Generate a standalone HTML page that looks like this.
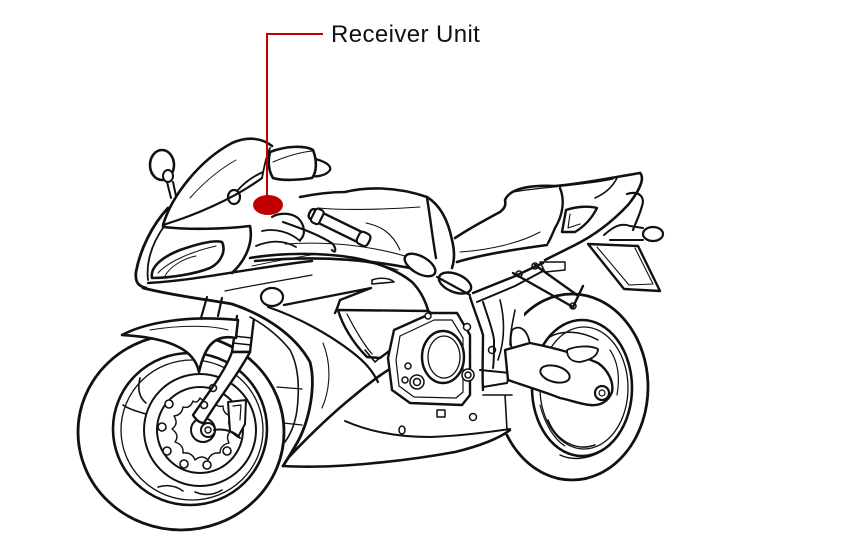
<!DOCTYPE html>
<html><head><meta charset="utf-8"><style>
html,body{margin:0;padding:0;background:#fff;}
body{width:858px;height:556px;overflow:hidden;position:relative;}
svg{position:absolute;left:0;top:0;}
.lbl{position:absolute;left:331px;top:21px;font-family:"Liberation Sans",sans-serif;font-size:24px;color:#111;letter-spacing:0.4px;white-space:nowrap;}
</style></head><body>
<svg width="858" height="556" viewBox="0 0 858 556" xmlns="http://www.w3.org/2000/svg">
<g fill="none" stroke="#111" stroke-linecap="round" stroke-linejoin="round">

<!-- REAR WHEEL -->
<ellipse cx="572" cy="387" rx="76" ry="93" stroke-width="2.8" fill="#fff"/>
<ellipse cx="582" cy="388" rx="50" ry="68" stroke-width="2.6"/>
<ellipse cx="584" cy="388" rx="44" ry="61" stroke-width="1.3"/>
<path d="M548,338 C560,330 580,330 598,340" stroke-width="1.5"/>
<path d="M548,420 C556,440 575,452 595,445" stroke-width="1.5"/>
<path d="M540,405 C545,425 555,440 565,446" stroke-width="1.2"/>
<path d="M610,350 C618,362 620,378 617,395" stroke-width="1.2"/>
<path d="M560,455 C575,462 595,458 610,445" stroke-width="1.5"/>
<!-- occluder rear -->
<path d="M466,280 L524,280 L524,330 L513,345 L511,434 L466,434 Z" fill="#fff" stroke="none"/>

<!-- FRONT WHEEL -->
<ellipse cx="181" cy="432" rx="103" ry="98" stroke-width="2.8" fill="#fff"/>
<ellipse cx="190" cy="429" rx="77" ry="76" stroke-width="2.6"/>
<ellipse cx="192" cy="430" rx="71" ry="70" stroke-width="1.3"/>
<ellipse cx="200" cy="430" rx="56" ry="56" stroke-width="2"/>
<path d="M123,405 C130,410 140,412 146,414" stroke-width="1.6"/>
<path d="M140,378 C137,390 140,398 146,403" stroke-width="1.6"/>
<path d="M158,487 C168,484 176,486 183,491" stroke-width="1.6"/>
<path d="M195,492 C205,496 214,495 222,490" stroke-width="1.6"/>
<circle cx="200" cy="430" r="43" stroke-width="2"/>
<path d="M200,398 Q206,404 212,399 Q216,408 223,406 Q223,414 231,416 Q226,423 232,430 Q225,435 229,443 Q220,445 220,453 Q211,452 208,460 Q202,454 195,460 Q192,452 183,453 Q184,445 175,442 Q180,435 172,429 Q179,424 174,416 Q182,415 183,407 Q190,409 193,401 Q197,404 200,398 Z" stroke-width="1.4"/>
<g stroke-width="1.6" fill="#fff">
<circle cx="169" cy="404" r="4"/><circle cx="162" cy="427" r="4"/><circle cx="167" cy="451" r="4"/>
<circle cx="184" cy="464" r="4"/><circle cx="207" cy="465" r="4"/><circle cx="227" cy="451" r="4"/>
</g>
<circle cx="203" cy="430" r="12" stroke-width="2" fill="#fff"/>
<circle cx="208" cy="430" r="7" stroke-width="2" fill="#fff"/>
<circle cx="208" cy="430" r="3" stroke-width="1.4"/>
<path d="M228,402 L246,400 L245,424 L238,437 L230,431 Z" stroke-width="2" fill="#fff"/>
<path d="M233,406 L241,405 L240,420" stroke-width="1.2"/>
<path d="M214,430 C225,428 235,432 240,438" stroke-width="2"/>

<!-- FORK -->
<path d="M207,297 L201,318 M222,298 L218,316" stroke-width="2.2"/>
<path d="M237,316 L232,352 L250,352 L254,318" stroke-width="2.4" fill="#fff"/>
<path d="M233,336 L252,338 M233,343 L251,345" stroke-width="1.6"/>
<path d="M232,352 C225,372 206,396 193,415 C196,420 200,423 204,423 C216,402 236,378 250,352 Z" stroke-width="2.4" fill="#fff"/>
<circle cx="213" cy="388" r="3.5" stroke-width="1.6"/>
<circle cx="204" cy="405" r="3.5" stroke-width="1.6"/>

<!-- FENDER -->
<path d="M122,335 C145,323 185,315 238,320 L236,338 C215,334 205,345 199,372 C195,352 175,338 122,335 Z" stroke-width="2.6" fill="#fff"/>
<path d="M150,330 C180,325 210,325 228,330" stroke-width="1"/>

<!-- occluder front lower fairing -->
<path d="M250,316 C275,330 300,355 310,385 C314,410 303,440 283,466 L340,470 L350,300 Z" fill="#fff" stroke="none"/>

<!-- WINDSCREEN -->
<path d="M163,225 C172,195 200,160 232,143 C248,136 262,138 272,146" stroke-width="2.6"/>
<path d="M166,224 C192,216 232,200 262,178" stroke-width="2.2"/>
<path d="M190,198 C205,181 220,169 236,160" stroke-width="1"/>
<path d="M262,178 C264,168 266,156 270,148" stroke-width="1.8"/>

<!-- LEFT MIRROR -->
<ellipse cx="162" cy="165" rx="12" ry="15" stroke-width="2.6" fill="#fff"/>
<ellipse cx="168" cy="176" rx="5" ry="6" stroke-width="2" fill="#fff"/>
<path d="M167,182 L171,198 M173,182 L176,196" stroke-width="2"/>

<!-- RIGHT MIRROR -->
<path d="M305,157 C320,159 332,164 330,170 C326,176 316,177 311,176" stroke-width="2.2" fill="#fff"/>
<path d="M270,152 C285,146 305,145 313,150 C317,160 317,172 312,178 C300,180 282,181 273,178 C268,170 268,160 270,152 Z" stroke-width="2.6" fill="#fff"/>
<path d="M273,162 C287,156 302,152 313,151" stroke-width="1"/>

<!-- instrument -->
<ellipse cx="234" cy="197" rx="6" ry="7" stroke-width="2.2"/>
<path d="M238,190 C245,182 254,176 263,172" stroke-width="1.8"/>

<!-- UPPER FAIRING -->
<path d="M168,208 C152,225 140,250 136,272 C135,282 138,286 146,288" stroke-width="2.8"/>
<path d="M165,225 C152,243 146,262 148,280" stroke-width="1.8"/>
<path d="M163,227 C190,230 225,229 250,226 C253,240 248,258 232,273" stroke-width="2.6"/>
<path d="M152,278 C150,268 160,258 180,250 C200,243 215,240 222,242 C226,250 222,262 210,268 C195,274 170,278 152,278 Z" stroke-width="2.6"/>
<path d="M158,273 C168,262 190,252 216,246" stroke-width="1"/>
<path d="M165,276 C170,266 185,258 196,256" stroke-width="1"/>
<path d="M148,283 C200,280 250,268 312,261" stroke-width="2.4"/>
<path d="M250,258 C280,253 320,252 355,258 C380,263 400,272 412,282 C420,290 425,300 428,310" stroke-width="2.6"/>
<path d="M252,266 C280,260 300,257 316,254" stroke-width="1"/>
<path d="M330,259 C355,260 380,264 398,270" stroke-width="1"/>

<!-- side fairing / arch -->
<path d="M143,288 C175,296 210,300 232,304 C265,315 295,335 310,362 C316,385 310,420 297,443 C292,452 287,460 283,466" stroke-width="2.8"/>
<path d="M250,317 C265,325 280,337 290,350 C298,365 300,385 297,410 C295,425 290,435 285,442" stroke-width="1.6"/>
<path d="M277,387 L302,389 M283,423 L302,425" stroke-width="1.3"/>
<ellipse cx="272" cy="297" rx="11" ry="9" stroke-width="2.2"/>
<path d="M284,305 L371,288 L340,300 C338,306 336,311 335,313" stroke-width="2.4"/>
<path d="M225,291 C255,285 285,280 312,275" stroke-width="1.2"/>
<path d="M268,307 C300,318 330,335 352,352 C365,362 372,370 378,382" stroke-width="2.2"/>
<path d="M323,343 C332,365 330,390 322,408" stroke-width="1.1"/>
<path d="M288,458 C305,440 330,415 355,395 C375,378 390,368 405,360" stroke-width="2.6"/>
<path d="M284,466 C330,469 400,462 455,452 C480,446 500,438 510,430" stroke-width="2.6"/>
<path d="M345,421 C370,432 400,437 430,437 C460,436 490,432 510,429" stroke-width="2"/>
<ellipse cx="402" cy="430" rx="3" ry="4" stroke-width="1.5"/>
<circle cx="473" cy="417" r="3.5" stroke-width="1.5"/>
<rect x="437" y="410" width="8" height="7" stroke-width="1.5"/>

<!-- radiator shroud -->
<path d="M338,310 L428,311 C433,313 433,319 428,322 L380,358 L367,357 C352,342 342,324 338,310 Z" stroke-width="2.4" fill="#fff"/>
<path d="M347,314 C355,330 365,346 372,354" stroke-width="1.2"/>
<path d="M365,350 L375,362 L382,356" stroke-width="1.6"/>
<path d="M372,280 C380,277 390,278 394,282 L372,284 Z" stroke-width="1.6"/>

<!-- ENGINE -->
<path d="M388,358 L394,330 L432,313 L457,313 L470,335 L470,395 L462,405 L410,403 L392,390 Z" stroke-width="2.4" fill="#fff"/>
<path d="M396,360 L400,336 L434,320 L452,320 L463,338 L463,392 L456,398 L414,397 L399,386 Z" stroke-width="1.2"/>
<ellipse cx="443" cy="357" rx="21" ry="26" stroke-width="2.4" fill="#fff"/>
<ellipse cx="444" cy="357" rx="16" ry="21" stroke-width="1.3"/>
<g stroke-width="1.5" fill="#fff">
<circle cx="408" cy="366" r="3"/><circle cx="405" cy="380" r="3"/>
<circle cx="417" cy="382" r="7"/><circle cx="417" cy="382" r="3.5"/>
<circle cx="468" cy="375" r="6"/><circle cx="468" cy="375" r="3"/>
<circle cx="467" cy="327" r="3.5"/><circle cx="492" cy="350" r="3.5"/><circle cx="428" cy="316" r="3"/>
</g>

<!-- TANK -->
<path d="M300,197 C315,194 330,192 345,192 C365,187 395,186 427,197 C440,205 448,220 452,240 C455,252 454,262 452,268" stroke-width="2.6"/>
<path d="M427,198 C430,215 432,235 436,258" stroke-width="2.4"/>
<path d="M318,208 C350,211 390,209 420,207" stroke-width="1.1"/>
<path d="M366,223 C380,226 392,232 400,250" stroke-width="1.1"/>
<path d="M255,261 C310,256 360,258 410,268" stroke-width="2.6"/>
<path d="M285,244 C330,241 370,246 405,256" stroke-width="1.1"/>
<ellipse cx="420" cy="265" rx="17" ry="8.5" transform="rotate(30 420 265)" stroke-width="2.4" fill="#fff"/>
<ellipse cx="455" cy="283" rx="17" ry="9" transform="rotate(22 455 283)" stroke-width="2.4" fill="#fff"/>

<!-- HANDLEBAR -->
<path d="M272,217 C278,213 290,212 298,218 C305,225 306,235 300,240" stroke-width="2.2"/>
<path d="M283,222 C300,228 320,235 333,244 C337,250 335,254 332,250" stroke-width="2.2"/>
<path d="M262,231 C275,228 290,232 300,241" stroke-width="1.8"/>
<path d="M256,246 C268,241 282,239 296,247" stroke-width="1.8"/>
<g transform="rotate(26 340 228)">
<rect x="306" y="222" width="66" height="11" rx="4" stroke-width="2.4" fill="#fff"/>
<rect x="310" y="220" width="9" height="15" rx="3" stroke-width="2.2" fill="#fff"/>
<rect x="360" y="221" width="12" height="13" rx="4" stroke-width="2.2" fill="#fff"/>
</g>

<!-- SEAT -->
<path d="M455,238 C470,228 485,220 500,212 C505,208 506,205 505,200 C510,188 530,185 555,186 C580,184 610,178 640,173" stroke-width="2.6"/>
<path d="M513,192 C540,187 580,186 613,179" stroke-width="1.2"/>
<path d="M560,188 C565,200 563,215 555,228 C552,235 550,240 548,243" stroke-width="2.4"/>
<path d="M617,178 C612,188 604,194 595,198" stroke-width="1.6"/>
<path d="M457,262 C480,255 510,250 547,245" stroke-width="2.6"/>
<path d="M460,252 C490,250 520,243 540,232" stroke-width="1"/>
<path d="M640,173 C645,178 640,190 628,205 C612,222 595,235 575,245 C565,250 555,255 545,260" stroke-width="2.6"/>
<path d="M562,232 L566,210 C578,206 590,206 597,208 C592,218 585,226 575,232 Z" stroke-width="2.4" fill="#fff"/>
<path d="M570,214 L568,228 L580,224" stroke-width="1.1"/>
<path d="M627,194 C640,190 645,198 642,206 C640,214 636,222 633,230" stroke-width="2.2"/>
<!-- license plate -->
<path d="M588,244 L624,289 L660,291 L638,246 Z" stroke-width="2.4" fill="#fff"/>
<path d="M597,247 L629,285 L653,284 L635,248" stroke-width="1.1"/>
<path d="M604,235 C612,228 620,222 630,226 L643,228 M610,240 L643,240" stroke-width="2"/>
<ellipse cx="653" cy="234" rx="10" ry="7" stroke-width="2.2" fill="#fff"/>

<!-- FRAME -->
<path d="M470,297 C475,312 480,325 483,335 C483,355 482,370 483,390" stroke-width="2.4"/>
<path d="M483,302 C488,318 493,330 494,340 C494,352 494,362 493,368" stroke-width="2"/>
<path d="M473,293 L513,277 L543,263" stroke-width="2.4"/>
<path d="M477,302 L515,286 L543,271" stroke-width="2"/>
<path d="M437,277 L470,295" stroke-width="2.2"/>
<path d="M513,273 L573,307 L583,286 M535,265 L577,295" stroke-width="2.4"/>
<circle cx="519" cy="274" r="3" stroke-width="1.6"/>
<circle cx="535" cy="266" r="3" stroke-width="1.6"/>
<circle cx="573" cy="306" r="3" stroke-width="1.6"/>
<path d="M540,262 L565,262 L565,270 L545,272 Z" stroke-width="1.5"/>
<path d="M500,300 C505,320 505,340 498,360 M515,310 C512,325 510,335 510,345" stroke-width="1.6"/>
<path d="M480,370 L510,373 L507,383 L483,387" stroke-width="2"/>
<path d="M483,395 L512,395 M505,395 L507,430" stroke-width="1.6"/>
<path d="M512,330 C520,324 528,330 530,345 C528,352 522,356 515,355 C510,350 510,338 512,330 Z" stroke-width="1.8" fill="#fff"/>

<!-- SWINGARM -->
<path d="M505,350 L530,343 C555,348 580,355 598,363 C608,370 614,382 612,392 C608,402 600,406 590,405 C580,404 570,400 560,398 C545,392 525,386 508,380 Z" stroke-width="2.4" fill="#fff"/>
<ellipse cx="555" cy="374" rx="15" ry="8" transform="rotate(15 555 374)" stroke-width="2"/>
<path d="M567,350 C575,346 590,345 598,349 C598,356 590,360 580,362 C572,362 567,358 567,350 Z" stroke-width="1.8" fill="#fff"/>
<circle cx="602" cy="393" r="7" stroke-width="2.2" fill="#fff"/>
<circle cx="602" cy="393" r="3" stroke-width="1.2"/>
</g>

<!-- LABEL LEADER -->
<path d="M323,34 L267,34 L267,200" fill="none" stroke="#c00000" stroke-width="2"/>
<ellipse cx="268" cy="205" rx="15" ry="10" fill="#c00000"/>
</svg>
<div class="lbl">Receiver Unit</div>
</body></html>
